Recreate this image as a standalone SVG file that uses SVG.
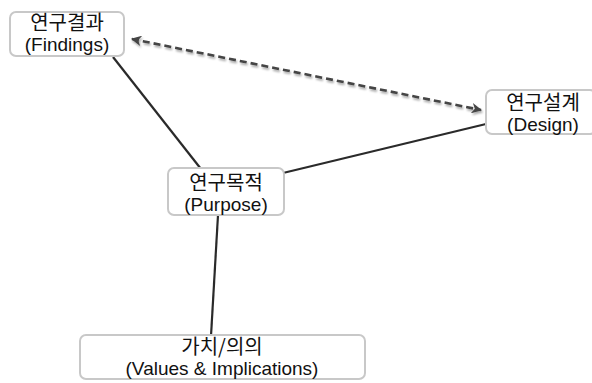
<svg xmlns="http://www.w3.org/2000/svg" width="592" height="383" viewBox="0 0 592 383">
<style>
.box{fill:#fff;stroke:#c8c8c8;stroke-width:2}
.k{font-family:"Noto Sans CJK KR","Noto Sans",sans-serif;font-size:20px;fill:#111;text-anchor:middle}
.t{font-family:"Liberation Sans","Noto Sans CJK KR",sans-serif;font-size:19px;fill:#111;text-anchor:middle}
.ln{stroke:#2a2a2a;stroke-width:2.2;fill:none}
.da{stroke:#444;stroke-width:2.6;fill:none;stroke-dasharray:7 4}
</style>
<defs>
<filter id="sh" x="-10%" y="-50%" width="120%" height="200%"><feGaussianBlur in="SourceAlpha" stdDeviation="1.2"/><feOffset dx="1" dy="2" result="b"/><feFlood flood-color="#000" flood-opacity="0.35"/><feComposite in2="b" operator="in"/><feMerge><feMergeNode/><feMergeNode in="SourceGraphic"/></feMerge></filter>
<marker id="ah" viewBox="0 0 10 10" refX="9" refY="5" markerWidth="4" markerHeight="4" orient="auto-start-reverse" markerUnits="strokeWidth"><path d="M0,0 L10,5 L0,10 L3,5 z" fill="#444"/></marker>
</defs>
<g id="connectors">
<line class="ln" x1="113" y1="57" x2="201" y2="169"/>
<line class="ln" x1="283" y1="173" x2="486" y2="124"/>
<line class="ln" x1="218" y1="215" x2="211" y2="336"/>
<line class="da" x1="132" y1="39" x2="481" y2="110" marker-start="url(#ah)" marker-end="url(#ah)" filter="url(#sh)"/>
</g>
<g id="findings">
<rect class="box" x="10" y="12" width="114" height="44" rx="6"/>
<text class="k" x="67" y="30">연구결과</text>
<text class="t" x="67" y="51">(Findings)</text>
</g>
<g id="design">
<rect class="box" x="486" y="90" width="110" height="44" rx="6"/>
<text class="k" x="543" y="110">연구설계</text>
<text class="t" x="543" y="131">(Design)</text>
</g>
<g id="purpose">
<rect class="box" x="168" y="168" width="116" height="47" rx="6"/>
<text class="k" x="226" y="190">연구목적</text>
<text class="t" x="226" y="211">(Purpose)</text>
</g>
<g id="values">
<rect class="box" x="80" y="335" width="285" height="44" rx="6"/>
<text class="k" x="222" y="354">가치/의의</text>
<text class="t" x="222" y="375">(Values &amp; Implications)</text>
</g>
</svg>
